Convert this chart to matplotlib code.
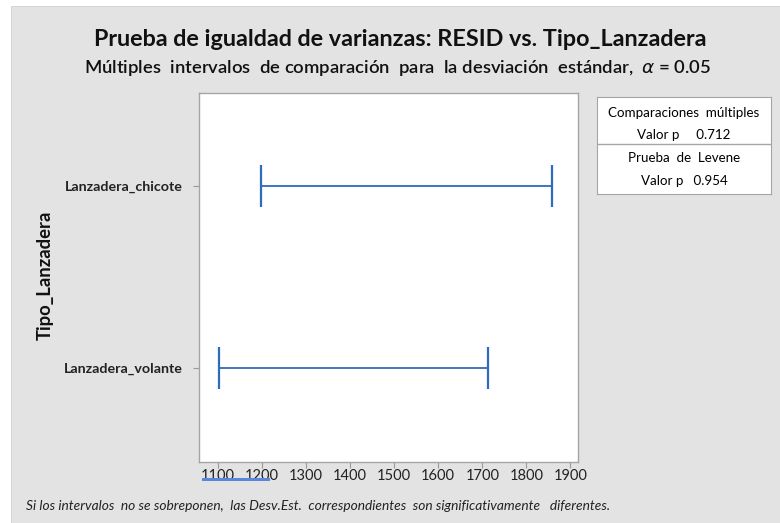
import matplotlib
matplotlib.use("Agg")
import matplotlib.pyplot as plt
from matplotlib.patches import Rectangle

plt.rcParams['font.family'] = ['Lato', 'DejaVu Sans']

# intervalos de comparación múltiple para la desviación estándar
grupos = ['Lanzadera_volante', 'Lanzadera_chicote']
limite_inf = [1103, 1199]
limite_sup = [1712, 1859]
x_ticks = [1100, 1200, 1300, 1400, 1500, 1600, 1700, 1800, 1900]
p_multiples = 0.712
p_levene = 0.954

fondo = '#e3e3e3'
azul = '#2d6bbd'

fig = plt.figure(figsize=(7.8, 5.23), dpi=100, facecolor='white')
fig.patches.append(Rectangle((11 / 780, 0), 1, 1 - 6 / 523, transform=fig.transFigure,
                             facecolor=fondo, edgecolor='#d0d0d0', linewidth=0.6, zorder=-10))

ax = fig.add_axes([199 / 780, 1 - 462 / 523, 379 / 780, 369 / 523])
ax.set_facecolor('white')

for i, g in enumerate(grupos):
    ax.errorbar([(limite_inf[i] + limite_sup[i]) / 2], [i],
                xerr=[[(limite_sup[i] - limite_inf[i]) / 2]],
                fmt='none', ecolor=azul, elinewidth=1.3, capsize=15, capthick=1.6)

ax.set_xlim(1058, 1917)
ax.set_ylim(-0.515, 1.51)
ax.set_xticks(x_ticks)
ax.set_xticklabels([str(t) for t in x_ticks], fontsize=10.5, color='#222222')
ax.set_yticks(range(len(grupos)))
ax.set_yticklabels(grupos, fontsize=10.3, fontweight='bold', color='#222222')
ax.tick_params(axis='both', colors='#9a9a9a', length=4, width=0.8, labelcolor='#222222')
ax.tick_params(axis='x', pad=1)
ax.tick_params(axis='y', pad=8)
for s in ax.spines.values():
    s.set_color('#a5a5a5')
    s.set_linewidth(1.0)

ax.set_ylabel('Tipo_Lanzadera', fontsize=13.3, fontweight='bold', color='#111111')
ax.yaxis.set_label_coords(-145 / 379, 0.507)

# títulos
fig.text(400 / 780, 1 - 40 / 523, 'Prueba de igualdad de varianzas: RESID vs. Tipo_Lanzadera',
         ha='center', va='center', fontsize=16.8, fontweight='bold', color='#111111')
fig.text(398 / 780, 1 - 68 / 523,
         'Múltiples  intervalos  de comparación  para  la desviación  estándar,  $\\alpha$ = 0.05',
         ha='center', va='center', fontsize=13.3, fontweight='semibold', color='#111111')

# cuadro de valores p
caja = fig.add_axes([597 / 780, 1 - 194 / 523, 174 / 780, 97 / 523])
caja.set_xlim(0, 1)
caja.set_ylim(0, 1)
caja.set_xticks([])
caja.set_yticks([])
caja.set_facecolor('white')
for s in caja.spines.values():
    s.set_color('#a5a5a5')
caja.axhline(50 / 97, color='#a5a5a5', linewidth=1.0)
caja.text(0.5, 1 - 16 / 97, 'Comparaciones  múltiples', ha='center', va='center', fontsize=9.6)
caja.text(0.5, 1 - 38 / 97, f'Valor p     {p_multiples:.3f}', ha='center', va='center', fontsize=9.6)
caja.text(0.5, 1 - 61 / 97, 'Prueba  de  Levene', ha='center', va='center', fontsize=9.6)
caja.text(0.5, 1 - 84 / 97, f'Valor p   {p_levene:.3f}', ha='center', va='center', fontsize=9.6)

# marca azul bajo las primeras etiquetas
fig.patches.append(Rectangle((202 / 780, 1 - 481 / 523), 68 / 780, 3 / 523,
                             transform=fig.transFigure, facecolor='#5b86dc',
                             edgecolor='none', zorder=5))

fig.text(26 / 780, 1 - 506 / 523,
         'Si los intervalos  no se sobreponen,  las Desv.Est.  correspondientes  son significativamente   diferentes.',
         ha='left', va='center', fontsize=9.9, fontstyle='italic', color='#222222')

fig.savefig('out.png', dpi=100, facecolor=fig.get_facecolor())
